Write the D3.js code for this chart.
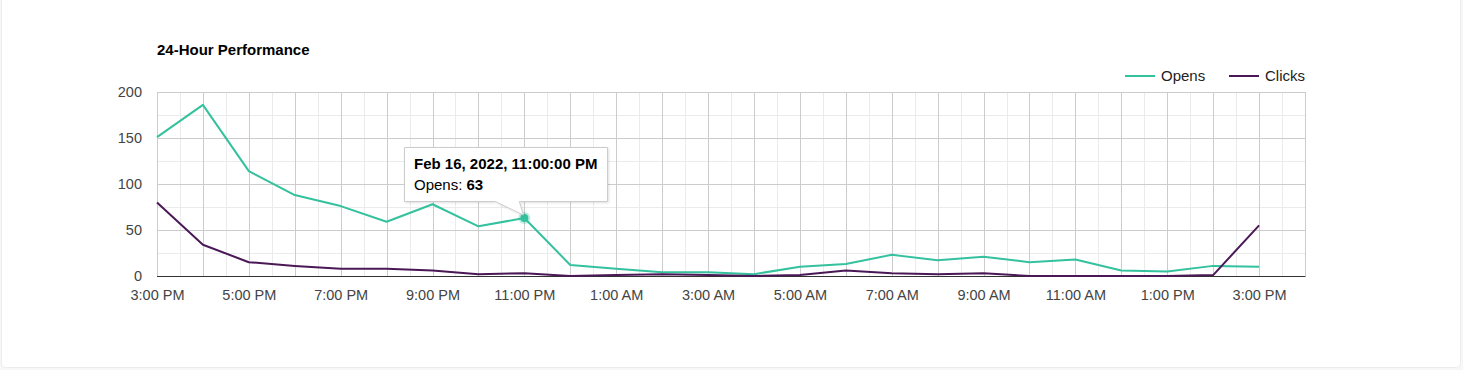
<!DOCTYPE html>
<html>
<head>
<meta charset="utf-8">
<script src="https://cdn.jsdelivr.net/npm/d3@7/dist/d3.min.js"></script>
<style>
  html, body { margin: 0; padding: 0; background: #f7f7f7; }
  body { width: 1463px; height: 370px; overflow: hidden; }
  svg { display: block; }
  text { font-family: "Liberation Sans", Arial, sans-serif; }
</style>
</head>
<body>
<svg id="chart" width="1463" height="370"></svg>
<script>
// ---- data ----
const hours = ["2022-02-16T15:00","2022-02-16T16:00","2022-02-16T17:00","2022-02-16T18:00","2022-02-16T19:00",
  "2022-02-16T20:00","2022-02-16T21:00","2022-02-16T22:00","2022-02-16T23:00","2022-02-17T00:00",
  "2022-02-17T01:00","2022-02-17T02:00","2022-02-17T03:00","2022-02-17T04:00","2022-02-17T05:00",
  "2022-02-17T06:00","2022-02-17T07:00","2022-02-17T08:00","2022-02-17T09:00","2022-02-17T10:00",
  "2022-02-17T11:00","2022-02-17T12:00","2022-02-17T13:00","2022-02-17T14:00","2022-02-17T15:00"];
const opens  = [151,186,114,88,76,59,78,54,63,12,8,4,4,2,10,13,23,17,21,15,18,6,5,11,10];
const clicks = [80,34,15,11,8,8,6,2,3,0,1,2,1,0,1,6,3,2,3,0,0,0,0,1,55];
const seriesNames = ["Opens","Clicks"];
const seriesColors = ["#33c19e","#4b1857"];
const yTicks = [0,50,100,150,200];
const xTickLabels = ["3:00 PM","5:00 PM","7:00 PM","9:00 PM","11:00 PM","1:00 AM","3:00 AM",
  "5:00 AM","7:00 AM","9:00 AM","11:00 AM","1:00 PM","3:00 PM"];
const title = "24-Hour Performance";
const tooltipIndex = 8;
const tooltipTitle = "Feb 16, 2022, 11:00:00 PM";

// ---- layout ----
const svg = d3.select("#chart");
const parse = d3.timeParse("%Y-%m-%dT%H:%M");
const dates = hours.map(parse);

// card
svg.append("rect").attr("x",1.5).attr("y",-4).attr("width",1459).attr("height",371.5)
  .attr("rx",4).attr("fill","#fff").attr("stroke","#ececec");

const L = 157, R = 1305, T = 92, B = 276;
const x = d3.scaleTime()
  .domain([dates[0], d3.timeHour.offset(dates[dates.length-1], 1)])
  .range([L, R]);
const y = d3.scaleLinear().domain([0, 200]).range([B, T]);

const g = svg.append("g");

// minor grid
const halfHours = d3.timeMinute.every(30).range(x.domain()[0], d3.timeMinute.offset(x.domain()[1],1));
g.selectAll(".vminor").data(halfHours.filter(d => d.getMinutes() === 30)).enter().append("line")
  .attr("x1", d => Math.round(x(d))+0.5).attr("x2", d => Math.round(x(d))+0.5)
  .attr("y1", T).attr("y2", B).attr("stroke", "#ebebeb");
g.selectAll(".hminor").data(d3.range(25, 200, 50)).enter().append("line")
  .attr("x1", L).attr("x2", R)
  .attr("y1", d => Math.round(y(d))+0.5).attr("y2", d => Math.round(y(d))+0.5)
  .attr("stroke", "#ebebeb");
// major grid
const hourTicks = d3.timeHour.every(1).range(x.domain()[0], d3.timeMinute.offset(x.domain()[1],1));
g.selectAll(".vmajor").data(hourTicks).enter().append("line")
  .attr("x1", d => Math.round(x(d))+0.5).attr("x2", d => Math.round(x(d))+0.5)
  .attr("y1", T).attr("y2", B).attr("stroke", "#cccccc");
g.selectAll(".hmajor").data(yTicks).enter().append("line")
  .attr("x1", L).attr("x2", R)
  .attr("y1", d => Math.round(y(d))+0.5).attr("y2", d => Math.round(y(d))+0.5)
  .attr("stroke", "#cccccc");
// baseline
g.append("line").attr("x1", L).attr("x2", R+0.5)
  .attr("y1", Math.round(y(0))+0.5).attr("y2", Math.round(y(0))+0.5).attr("stroke", "#333");

// y axis labels
const yAxis = d3.axisLeft(y).tickValues(yTicks).tickSize(0).tickPadding(15);
const yg = svg.append("g").attr("transform", `translate(${L},0)`).call(yAxis);
yg.select(".domain").remove();
yg.selectAll("text").attr("font-size", 14.5).attr("fill", "#444")
  .attr("font-family", "Liberation Sans, Arial, sans-serif");

// x axis labels (every other hour, starting at first data point)
const xTickVals = dates.filter((d, i) => i % 2 === 0);
const xAxis = d3.axisBottom(x).tickValues(xTickVals)
  .tickFormat((d, i) => xTickLabels[i]).tickSize(0).tickPadding(14);
const xg = svg.append("g").attr("transform", `translate(0,${B})`).call(xAxis);
xg.select(".domain").remove();
xg.selectAll("text").attr("font-size", 14.5).attr("fill", "#444")
  .attr("font-family", "Liberation Sans, Arial, sans-serif");

// lines
const line = d3.line().x((d,i) => x(dates[i])).y(d => y(d));
[opens, clicks].forEach((vals, k) => {
  svg.append("path").datum(vals).attr("d", line)
    .attr("fill", "none").attr("stroke", seriesColors[k]).attr("stroke-width", 2)
    .attr("stroke-linejoin", "round");
});

// title
svg.append("text").attr("x", 157).attr("y", 55).text(title)
  .attr("font-size", 15).attr("font-weight", "bold").attr("fill", "#000");

// legend
const legX = [1125, 1229];
seriesNames.forEach((n, k) => {
  svg.append("line").attr("x1", legX[k]).attr("x2", legX[k]+30).attr("y1", 76).attr("y2", 76)
    .attr("stroke", seriesColors[k]).attr("stroke-width", 2);
  svg.append("text").attr("x", legX[k]+36).attr("y", 81).text(n)
    .attr("font-size", 15).attr("fill", "#222");
});

// tooltip
const px = x(dates[tooltipIndex]), py = y(opens[tooltipIndex]);
svg.append("circle").attr("cx", px).attr("cy", py).attr("r", 6)
  .attr("fill", seriesColors[0]).attr("opacity", 0.3);
svg.append("circle").attr("cx", px).attr("cy", py).attr("r", 4)
  .attr("fill", seriesColors[0]);
const bx = Math.round(px - 120) + 0.5, by = Math.round(py - 71) + 0.5, bw = 203, bh = 54;
const defs = svg.append("defs");
const f = defs.append("filter").attr("id","sh").attr("x","-10%").attr("y","-10%").attr("width","130%").attr("height","140%");
f.append("feDropShadow").attr("dx",1).attr("dy",1).attr("stdDeviation",1).attr("flood-color","#000").attr("flood-opacity",0.12);
const tt = svg.append("g");
tt.append("path")
  .attr("d", `M${bx},${by} H${bx+bw} V${by+bh} H${px-5} L${px-1},${py-3} L${px-29},${by+bh} H${bx} Z`)
  .attr("fill", "#fff").attr("stroke", "#cccccc").attr("filter","url(#sh)");
tt.append("text").attr("x", bx + 9.5).attr("y", by + 21).text(tooltipTitle)
  .attr("font-size", 15).attr("font-weight", "bold").attr("fill", "#000");
const t2 = tt.append("text").attr("x", bx + 9.5).attr("y", by + 42).attr("font-size", 15).attr("fill", "#000");
t2.append("tspan").text(seriesNames[0] + ": ");
t2.append("tspan").attr("font-weight","bold").text(opens[tooltipIndex]);
</script>
</body>
</html>
